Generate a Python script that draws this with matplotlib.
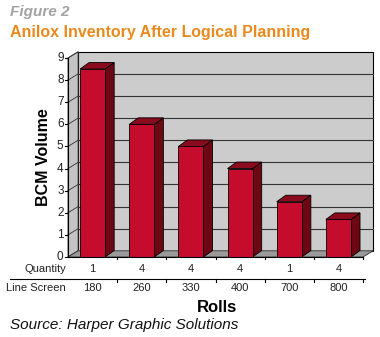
import matplotlib
matplotlib.use("Agg")
import matplotlib.pyplot as plt
from matplotlib.patches import Polygon
from matplotlib.transforms import blended_transform_factory

# data
line_screen = ["180", "260", "330", "400", "700", "800"]
quantity = ["1", "4", "4", "4", "1", "4"]
bcm_volume = [8.5, 6.0, 5.0, 4.0, 2.5, 1.7]

plt.rcParams["font.family"] = ["Liberation Sans", "DejaVu Sans"]

W, H = 380, 337
fig = plt.figure(figsize=(W / 100, H / 100), dpi=100)
ax = fig.add_axes([68 / W, (H - 257) / H, (363 - 68) / W, (257 - 58) / H])

n = len(bcm_volume)
ymax = 9
ax.set_xlim(0, n)
ax.set_ylim(0, ymax)
ax.axis("off")

# depth offsets (data units)
dx, dy = 0.205, 0.28
wall = "#cccccc"
edge = "#333333"

# back wall, side wall, floor
ax.add_patch(Polygon([(dx, dy), (n + dx, dy), (n + dx, ymax + dy), (dx, ymax + dy)],
                     closed=True, fc=wall, ec="black", lw=0.8, clip_on=False, zorder=1))
ax.add_patch(Polygon([(0, 0), (dx, dy), (dx, ymax + dy), (0, ymax)],
                     closed=True, fc="#c4c4c4", ec=edge, lw=0.6, clip_on=False, zorder=1))
ax.add_patch(Polygon([(0, 0), (n, 0), (n + dx, dy), (dx, dy)],
                     closed=True, fc="#9a9a9a", ec=edge, lw=0.6, clip_on=False, zorder=2))

# gridlines on back wall and side wall
for v in range(1, ymax):
    ax.plot([dx, n + dx], [v + dy, v + dy], color="#333333", lw=0.8, zorder=1.5, clip_on=False)
for v in range(0, ymax + 1):
    ax.plot([0, dx], [v, v + dy], color="#333333", lw=0.6, zorder=1.5, clip_on=False)

# bars
bw = 0.51
bdx, bdy = dx * 0.9, dy * 1.05
front_c, side_c, top_c = "#c60c2d", "#6e0714", "#8a0a1e"
for i, v in enumerate(bcm_volume):
    x0 = i + 0.5 - bw / 2
    x1 = x0 + bw
    ax.add_patch(Polygon([(x1, 0), (x1 + bdx, bdy), (x1 + bdx, v + bdy), (x1, v)],
                         closed=True, fc=side_c, ec="black", lw=0.6, zorder=3, clip_on=False))
    ax.add_patch(Polygon([(x0, v), (x1, v), (x1 + bdx, v + bdy), (x0 + bdx, v + bdy)],
                         closed=True, fc=top_c, ec="black", lw=0.6, zorder=3, clip_on=False))
    ax.add_patch(Polygon([(x0, 0), (x1, 0), (x1, v), (x0, v)],
                         closed=True, fc=front_c, ec="black", lw=0.6, zorder=4, clip_on=False))

# y axis with ticks
ax.plot([0, 0], [0, ymax], color="black", lw=0.8, clip_on=False, zorder=5)
tick_len = 0.06
for v in range(0, ymax + 1):
    ax.plot([-tick_len, 0], [v, v], color="black", lw=0.8, clip_on=False, zorder=5)
    ax.text(-0.09, v, str(v), ha="right", va="center", fontsize=8.5, color="#222222")

# bottom edge and category ticks
ax.plot([0, n], [0, 0], color="black", lw=0.8, clip_on=False, zorder=5)
for k in range(1, n + 1):
    ax.plot([k, k], [0, -0.1], color="black", lw=0.8, clip_on=False, zorder=5)

# table under the axis
tr = blended_transform_factory(ax.transData, fig.transFigure)
row1_y = (H - 269) / H
row2_y = (H - 288) / H
line_y = (H - 279) / H
for i in range(n):
    ax.text(i + 0.5, row1_y, quantity[i], transform=tr, ha="center", va="center",
            fontsize=8, color="#222222")
    ax.text(i + 0.5, row2_y, line_screen[i], transform=tr, ha="center", va="center",
            fontsize=8, color="#222222")
fig.text(66 / W, row1_y, "Quantity", ha="right", va="center", fontsize=8, color="#222222")
fig.text(66 / W, row2_y, "Line Screen", ha="right", va="center", fontsize=8, color="#222222")
fig.add_artist(plt.Line2D([10 / W, 365 / W], [line_y, line_y], color="black", lw=0.8))
for k in range(1, n + 1):
    ax.plot([k, k], [line_y, line_y - 3 / H], transform=tr, color="black", lw=0.8, clip_on=False)

# labels and titles
fig.text(217 / W, (H - 307) / H, "Rolls", ha="center", va="center", fontsize=12,
         fontweight="bold")
fig.text(44 / W, (H - 157) / H, "BCM Volume", ha="center", va="center", fontsize=11.5,
         fontweight="bold", rotation=90)
fig.text(10 / W, (H - 12) / H, "Figure 2", ha="left", va="center", fontsize=11,
         fontweight="bold", fontstyle="italic", color="#a3a3a3")
fig.text(10 / W, (H - 32) / H, "Anilox Inventory After Logical Planning", ha="left",
         va="center", fontsize=11.5, fontweight="bold", color="#ea8a1e")
fig.text(10 / W, (H - 325) / H, "Source: Harper Graphic Solutions", ha="left",
         va="center", fontsize=11, fontstyle="italic", color="#111111")

fig.savefig("out.png", dpi=100, facecolor="white")
